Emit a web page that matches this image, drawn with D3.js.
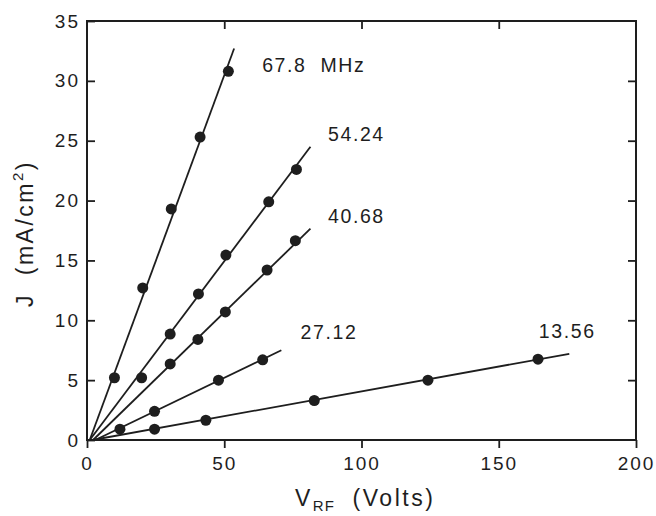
<!DOCTYPE html>
<html>
<head>
<meta charset="utf-8">
<script src="https://cdn.jsdelivr.net/npm/d3@7"></script>
<style>
  body { margin: 0; background: #fff; }
  text { font-family: "Liberation Sans", Arial, sans-serif; fill: #1e1e1e; }
</style>
</head>
<body>
<svg id="chart" width="656" height="516"></svg>
<script>
const series = ["67.8", "54.24", "40.68", "27.12", "13.56"];

const vrf678 = [10, 20.3, 30.7, 41.2, 51.5];
const j678 = [5.2, 12.7, 19.3, 25.3, 30.8];
const vrf5424 = [19.9, 30.3, 40.6, 50.6, 66.2, 76.3];
const j5424 = [5.2, 8.85, 12.2, 15.45, 19.9, 22.6];
const vrf4068 = [30.3, 40.4, 50.4, 65.6, 75.9];
const j4068 = [6.35, 8.4, 10.7, 14.2, 16.65];
const vrf2712 = [12, 24.6, 47.9, 64];
const j2712 = [0.9, 2.4, 5.0, 6.7];
const vrf1356 = [24.6, 43.3, 82.8, 124.2, 164.3];
const j1356 = [0.9, 1.65, 3.3, 5.0, 6.75];

// fitted straight lines: [x0, y0, x1, y1]
const fit678 = [1, 0, 53.6, 32.7];
const fit5424 = [1, 0, 81.4, 24.5];
const fit4068 = [2.2, 0, 81.4, 17.65];
const fit2712 = [3, 0, 70.8, 7.5];
const fit1356 = [2, 0, 175.7, 7.2];

// curve labels: text, V at left edge, J at baseline
const labelText = ["67.8  MHz", "54.24", "40.68", "27.12", "13.56"];
const labelV = [63.8, 87.8, 87.8, 77.8, 164.6];
const labelJ = [30.7, 25, 18.1, 8.4, 8.5];

const xTicks = [0, 50, 100, 150, 200];
const yTicks = [0, 5, 10, 15, 20, 25, 30, 35];

const pts = [
  [vrf678, j678], [vrf5424, j5424], [vrf4068, j4068], [vrf2712, j2712], [vrf1356, j1356]
];
const fits = [fit678, fit5424, fit4068, fit2712, fit1356];

const svg = d3.select("#chart");
const ink = "#1e1e1e";

const x = d3.scaleLinear().domain([0, 200]).range([87, 636]);
const y = d3.scaleLinear().domain([0, 35]).range([440, 21]);

// frame
svg.append("rect")
  .attr("x", x(0)).attr("y", y(35))
  .attr("width", x(200) - x(0)).attr("height", y(0) - y(35))
  .attr("fill", "none").attr("stroke", ink).attr("stroke-width", 2);

// bottom axis: ticks point outward
const xAxis = svg.append("g")
  .attr("transform", `translate(0,${y(0)})`)
  .call(d3.axisBottom(x).tickValues(xTicks).tickSize(8).tickPadding(9).tickSizeOuter(0));
xAxis.select(".domain").remove();

// left axis: ticks inward
const yAxis = svg.append("g")
  .attr("transform", `translate(${x(0)},0)`)
  .call(d3.axisLeft(y).tickValues(yTicks).tickSize(-8).tickPadding(9).tickSizeOuter(0));
yAxis.select(".domain").remove();

// top and right ticks inward, no labels
const topAxis = svg.append("g")
  .attr("transform", `translate(0,${y(35)})`)
  .call(d3.axisTop(x).tickValues(xTicks.slice(1, -1)).tickSize(-8).tickFormat("").tickSizeOuter(0));
topAxis.select(".domain").remove();

const rightAxis = svg.append("g")
  .attr("transform", `translate(${x(200)},0)`)
  .call(d3.axisRight(y).tickValues(yTicks.slice(1, -1)).tickSize(-8).tickFormat("").tickSizeOuter(0));
rightAxis.select(".domain").remove();

svg.selectAll(".tick line").attr("stroke", ink).attr("stroke-width", 1.8);
svg.selectAll(".tick text")
  .style("font-family", "'Liberation Sans', Arial, sans-serif")
  .style("font-size", "19px")
  .style("letter-spacing", "2px")
  .attr("fill", ink);
yAxis.selectAll(".tick text").attr("dx", "2px");

// fit lines
svg.append("g").selectAll("line")
  .data(fits)
  .join("line")
  .attr("x1", (d) => x(d[0])).attr("y1", (d) => y(d[1]))
  .attr("x2", (d) => x(d[2])).attr("y2", (d) => y(d[3]))
  .attr("stroke", ink).attr("stroke-width", 1.8);

// data points
pts.forEach((p, s) => {
  svg.append("g").selectAll("circle")
    .data(p[0].map((v, i) => ({ v: v, j: p[1][i] })))
    .join("circle")
    .attr("cx", (d) => x(d.v))
    .attr("cy", (d) => y(d.j))
    .attr("r", 5.5)
    .attr("fill", ink);
});

// curve labels
svg.append("g").selectAll("text")
  .data(labelText)
  .join("text")
  .attr("x", (d, i) => x(labelV[i]))
  .attr("y", (d, i) => y(labelJ[i]))
  .attr("font-size", "19.5px")
  .style("letter-spacing", "1.6px")
  .style("white-space", "pre")
  .text((d) => d);

// x title
const xt = svg.append("text")
  .attr("x", 295).attr("y", 506)
  .attr("font-size", "23px")
  .style("letter-spacing", "2.5px")
  .style("white-space", "pre");
xt.append("tspan").text("V");
xt.append("tspan").attr("font-size", "15px").attr("dy", 5).style("letter-spacing", "1px").text("RF");
xt.append("tspan").attr("dy", -5).text("  (Volts)");

// y title
const yt = svg.append("text")
  .attr("transform", "translate(33,307) rotate(-90)")
  .attr("font-size", "23px")
  .style("letter-spacing", "2.5px")
  .style("white-space", "pre");
yt.append("tspan").text("J  (mA/cm");
yt.append("tspan").attr("font-size", "15px").attr("dy", -10).text("2");
yt.append("tspan").attr("dy", 10).text(")");
</script>
</body>
</html>
